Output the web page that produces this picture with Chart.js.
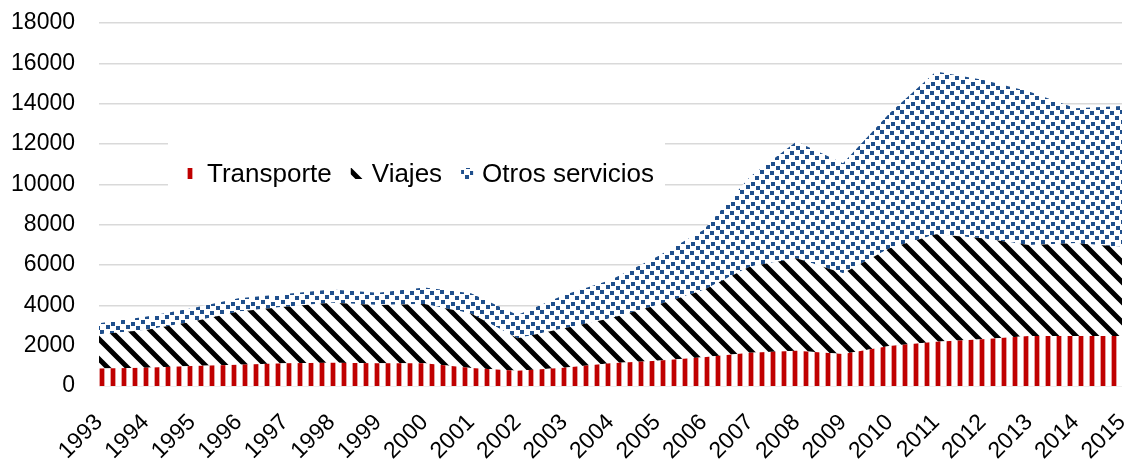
<!DOCTYPE html>
<html>
<head>
<meta charset="utf-8">
<script src="https://cdn.jsdelivr.net/npm/chart.js@4.4.0/dist/chart.umd.min.js"></script>
<style>
  html, body { margin: 0; padding: 0; background: #fff; }
  #caja { width: 1130px; height: 459px; position: relative; }
</style>
</head>
<body>
<div id="caja"><canvas id="grafico"></canvas></div>
<script>
// datos
const anios = ['1993', '1994', '1995', '1996', '1997', '1998', '1999', '2000', '2001', '2002', '2003',
  '2004', '2005', '2006', '2007', '2008', '2009', '2010', '2011', '2012', '2013', '2014', '2015'];
const transporte = [870, 900, 990, 1050, 1130, 1150, 1130, 1130, 890, 760, 910,
  1125, 1255, 1420, 1650, 1750, 1590, 1985, 2200, 2315, 2480, 2480, 2480];
const viajes = [1690, 1880, 2200, 2640, 2805, 2980, 2890, 2940, 2710, 1605, 1950,
  2235, 2765, 3340, 4270, 4580, 4000, 4845, 5325, 5010, 4510, 4595, 4430];
const otros = [550, 660, 660, 660, 625, 660, 610, 820, 1000, 1155, 1650,
  1900, 2390, 2980, 4460, 5790, 5450, 6690, 8065, 7855, 7610, 6695, 6980];
const nombres = ['Transporte', 'Viajes', 'Otros servicios'];
const maxY = 18000;
const pasoY = 2000;

const fuente = '"Liberation Sans", Arial, sans-serif';

// tramas de relleno
function rayasVerticales() {
  const c = document.createElement('canvas');
  c.width = 11; c.height = 11;
  const g = c.getContext('2d');
  g.fillStyle = '#fff'; g.fillRect(0, 0, 11, 11);
  g.fillStyle = '#e6a0a0'; g.fillRect(0, 0, 1, 11); g.fillRect(5, 0, 1, 11);
  g.fillStyle = '#c00000'; g.fillRect(1, 0, 4, 11);
  return g.createPattern(c, 'repeat');
}

function rayasDiagonales() {
  const p = 20;
  const c = document.createElement('canvas');
  c.width = p; c.height = p;
  const g = c.getContext('2d');
  g.fillStyle = '#fff'; g.fillRect(0, 0, p, p);
  g.strokeStyle = '#000'; g.lineWidth = 5;
  g.beginPath();
  for (let k = -1; k <= 1; k++) {
    g.moveTo(k * p - 2, -2);
    g.lineTo(k * p + p + 2, p + 2);
  }
  g.stroke();
  return g.createPattern(c, 'repeat');
}

function puntos() {
  const c = document.createElement('canvas');
  c.width = 20; c.height = 20;
  const g = c.getContext('2d');
  g.fillStyle = '#fff'; g.fillRect(0, 0, 20, 20);
  g.fillStyle = '#1f4f8c';
  const cuadros = [[1, 0], [11, 2], [6, 5], [16, 6], [0, 10], [10, 11], [5, 15], [15, 16]];
  cuadros.forEach(([x, y]) => g.fillRect(x, y, 4, 4));
  return g.createPattern(c, 'repeat');
}

// leyenda dentro del area del grafico, con fondo blanco
const leyenda = {
  id: 'leyenda',
  afterDraw(chart) {
    const ctx = chart.ctx;
    ctx.save();
    ctx.fillStyle = '#fff';
    ctx.fillRect(168, 138, 497, 64);
    ctx.font = '26px ' + fuente;
    ctx.textBaseline = 'alphabetic';
    let x = 186;
    chart.data.datasets.forEach(ds => {
      ctx.fillStyle = ds.backgroundColor;
      ctx.fillRect(x, 168, 12, 11);
      x += 12 + 9;
      ctx.fillStyle = '#000';
      ctx.fillText(ds.label, x, 182);
      x += ctx.measureText(ds.label).width + 19;
    });
    ctx.restore();
  }
};

const ctx = document.getElementById('grafico').getContext('2d');
new Chart(ctx, {
  type: 'line',
  data: {
    labels: anios,
    datasets: [
      { label: nombres[0], data: transporte, backgroundColor: rayasVerticales(), fill: 'origin' },
      { label: nombres[1], data: viajes, backgroundColor: rayasDiagonales(), fill: '-1' },
      { label: nombres[2], data: otros, backgroundColor: puntos(), fill: '-1' }
    ]
  },
  options: {
    responsive: true,
    maintainAspectRatio: false,
    animation: false,
    layout: { padding: { top: 23, right: 8, left: 0, bottom: 0 } },
    elements: {
      point: { radius: 0, hoverRadius: 0 },
      line: { borderWidth: 0, borderColor: 'rgba(0,0,0,0)', tension: 0 }
    },
    plugins: { legend: { display: false }, tooltip: { enabled: false } },
    scales: {
      x: {
        grid: { display: false },
        border: { display: false },
        ticks: {
          autoSkip: false, maxRotation: 45, minRotation: 45, padding: 15,
          color: '#000', font: { size: 23, family: fuente }
        },
        afterFit: s => { s.height = 73; s.paddingLeft = 0; s.paddingRight = 0; }
      },
      y: {
        stacked: true,
        min: 0, max: maxY,
        ticks: {
          stepSize: pasoY, padding: 24, color: '#000',
          font: { size: 23, family: fuente },
          callback: v => String(v)
        },
        grid: { color: '#d9d9d9', lineWidth: 1.5, drawTicks: false },
        border: { display: false },
        afterFit: s => { s.width = 99; s.paddingTop = 0; s.paddingBottom = 0; }
      }
    }
  },
  plugins: [leyenda]
});
</script>
</body>
</html>
